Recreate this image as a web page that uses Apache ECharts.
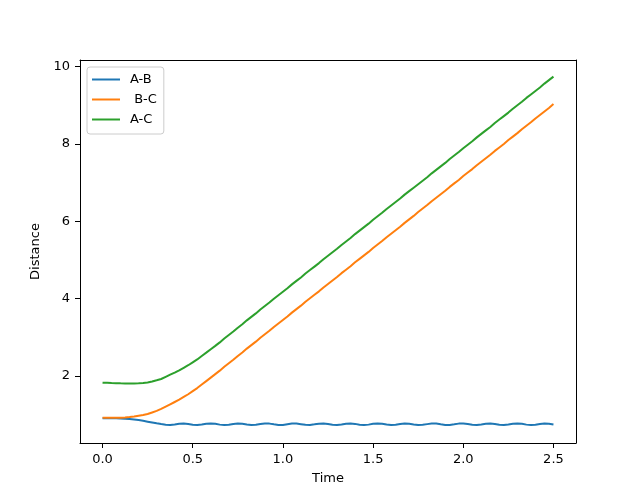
<!DOCTYPE html>
<html>
<head>
<meta charset="utf-8">
<script src="https://cdn.jsdelivr.net/npm/echarts@6/dist/echarts.min.js"></script>
<style>html,body{margin:0;padding:0;background:#fff;}#c{width:640px;height:498px;}</style>
</head>
<body>
<div id="c"></div>
<script>
const seriesNames = ['A-B', ' B-C', 'A-C'];
const xTicks = [0.0, 0.5, 1.0, 1.5, 2.0, 2.5];
const yTicks = [2, 4, 6, 8, 10];
const times = [0,0.025,0.05,0.075,0.1,0.125,0.15,0.175,0.2,0.225,0.25,0.275,0.3,0.325,0.35,0.375,0.4,0.425,0.45,0.475,0.5,0.525,0.55,0.575,0.6,0.625,0.65,0.675,0.7,0.725,0.75,0.775,0.8,0.825,0.85,0.875,0.9,0.925,0.95,0.975,1.0,1.025,1.05,1.075,1.1,1.125,1.15,1.175,1.2,1.225,1.25,1.275,1.3,1.325,1.35,1.375,1.4,1.425,1.45,1.475,1.5,1.525,1.55,1.575,1.6,1.625,1.65,1.675,1.7,1.725,1.75,1.775,1.8,1.825,1.85,1.875,1.9,1.925,1.95,1.975,2.0,2.025,2.05,2.075,2.1,2.125,2.15,2.175,2.2,2.225,2.25,2.275,2.3,2.325,2.35,2.375,2.4,2.425,2.45,2.475,2.5];
const distAB = [0.910,0.910,0.909,0.907,0.903,0.897,0.889,0.877,0.862,0.843,0.822,0.800,0.778,0.760,0.744,0.736,0.749,0.768,0.774,0.762,0.743,0.735,0.746,0.766,0.775,0.765,0.745,0.735,0.743,0.763,0.775,0.768,0.749,0.736,0.740,0.759,0.774,0.771,0.752,0.737,0.738,0.756,0.773,0.773,0.757,0.739,0.737,0.752,0.770,0.774,0.760,0.741,0.736,0.748,0.768,0.775,0.764,0.744,0.735,0.745,0.765,0.775,0.766,0.747,0.735,0.742,0.761,0.774,0.769,0.751,0.736,0.740,0.758,0.773,0.772,0.754,0.738,0.738,0.754,0.771,0.773,0.759,0.740,0.736,0.750,0.769,0.774,0.762,0.742,0.735,0.747,0.766,0.775,0.765,0.745,0.735,0.744,0.763,0.775,0.768,0.748];
const distBC = [0.920,0.920,0.920,0.921,0.924,0.930,0.940,0.955,0.975,0.993,1.02,1.06,1.10,1.15,1.21,1.27,1.33,1.39,1.46,1.53,1.61,1.69,1.78,1.87,1.96,2.05,2.14,2.24,2.33,2.42,2.52,2.61,2.71,2.80,2.89,2.99,3.08,3.17,3.27,3.36,3.45,3.54,3.64,3.73,3.82,3.92,4.01,4.10,4.19,4.29,4.38,4.47,4.56,4.66,4.75,4.84,4.94,5.03,5.12,5.21,5.31,5.40,5.49,5.59,5.68,5.77,5.86,5.96,6.05,6.14,6.24,6.33,6.42,6.52,6.61,6.70,6.79,6.89,6.98,7.07,7.17,7.26,7.35,7.45,7.54,7.63,7.72,7.82,7.91,8.00,8.10,8.19,8.28,8.38,8.47,8.56,8.66,8.75,8.84,8.93,9.03];
const distAC = [1.830,1.825,1.820,1.816,1.812,1.810,1.810,1.810,1.815,1.823,1.835,1.86,1.89,1.925,1.98,2.035,2.09,2.15,2.215,2.28,2.355,2.43,2.52,2.605,2.695,2.78,2.87,2.97,3.06,3.15,3.25,3.34,3.44,3.53,3.62,3.72,3.81,3.90,4.00,4.09,4.18,4.27,4.37,4.46,4.55,4.65,4.74,4.83,4.92,5.02,5.11,5.20,5.29,5.39,5.48,5.57,5.67,5.76,5.85,5.94,6.04,6.13,6.22,6.32,6.41,6.50,6.59,6.69,6.78,6.87,6.96,7.05,7.14,7.24,7.33,7.42,7.51,7.61,7.70,7.79,7.89,7.98,8.07,8.17,8.26,8.35,8.44,8.54,8.63,8.72,8.81,8.91,9.00,9.09,9.19,9.28,9.37,9.46,9.56,9.65,9.74];
const colors = ['#1f77b4', '#ff7f0e', '#2ca02c'];

const chart = echarts.init(document.getElementById('c'), null, {renderer: 'canvas'});
const font = 'DejaVu Sans';
const allSeries = [distAB, distBC, distAC].map((vals, k) => ({
  name: seriesNames[k],
  type: 'line',
  xAxisIndex: 0, yAxisIndex: 0,
  data: times.map((t, i) => [t, vals[i]]),
  symbol: 'none',
  smooth: false,
  lineStyle: {color: colors[k], width: 2},
  itemStyle: {color: colors[k]},
  animation: false
}));

const plainAxis = {
  axisLine: {show: true, onZero: false, lineStyle: {color: '#000', width: 1}},
  axisTick: {show: false}, axisLabel: {show: false}, splitLine: {show: false}
};

chart.setOption({
  animation: false,
  backgroundColor: '#fff',
  grid: {left: 80, right: 64, top: 60, bottom: 55},
  legend: {
    orient: 'vertical', left: 87, top: 67,
    padding: [6, 7, 8, 5],
    itemGap: 7, itemWidth: 28, itemHeight: 2,
    icon: 'rect',
    backgroundColor: '#fff', borderColor: '#cccccc', borderWidth: 1, borderRadius: 3,
    textStyle: {fontFamily: font, fontSize: 13, color: '#000', padding: [0, 0, 0, 5]},
    data: seriesNames.map((n, k) => ({name: n, itemStyle: {color: colors[k]}}))
  },
  xAxis: [{
    type: 'value', min: -0.125, max: 2.625, position: 'bottom',
    name: 'Time', nameLocation: 'middle', nameGap: 29,
    nameTextStyle: {fontFamily: font, fontSize: 13, color: '#000'},
    axisLine: {show: true, onZero: false, lineStyle: {color: '#000', width: 1}},
    axisTick: {show: true, customValues: xTicks, length: 5, lineStyle: {color: '#000'}},
    axisLabel: {customValues: xTicks, margin: 10, fontFamily: font, fontSize: 13, color: '#000', formatter: v => v.toFixed(1)},
    splitLine: {show: false}
  }, Object.assign({type: 'value', min: -0.125, max: 2.625, position: 'top'}, plainAxis)],
  yAxis: [{
    type: 'value', min: 0.27, max: 10.17, position: 'left',
    name: 'Distance', nameLocation: 'middle', nameGap: 30,
    nameTextStyle: {fontFamily: font, fontSize: 13, color: '#000'},
    axisLine: {show: true, onZero: false, lineStyle: {color: '#000', width: 1}},
    axisTick: {show: true, customValues: yTicks, length: 5, lineStyle: {color: '#000'}},
    axisLabel: {customValues: yTicks, margin: 10, fontFamily: font, fontSize: 13, color: '#000', formatter: v => String(Math.round(v))},
    splitLine: {show: false}
  }, Object.assign({type: 'value', min: 0.27, max: 10.17, position: 'right'}, plainAxis)],
  series: allSeries
});
</script>
</body>
</html>
